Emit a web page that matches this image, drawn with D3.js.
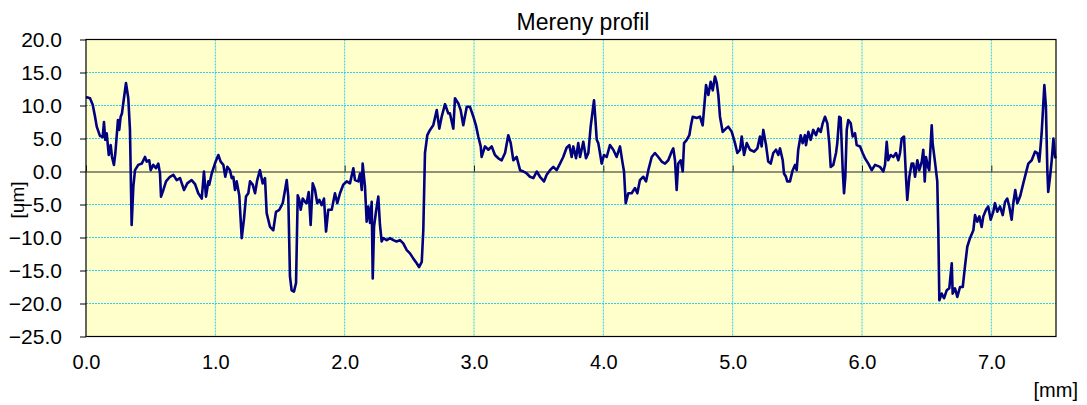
<!DOCTYPE html>
<html>
<head>
<meta charset="utf-8">
<script src="https://cdn.jsdelivr.net/npm/d3@7"></script>
<style>
  html, body { margin: 0; padding: 0; background: #fff; }
  svg { display: block; font-family: "Liberation Sans", Arial, sans-serif; }
</style>
</head>
<body>
<svg id="chart" width="1087" height="405"></svg>
<script>
const chartTitle = "Mereny profil";
const xAxisLabel = "[mm]";
const yAxisLabel = "[um]";
const xTicks = [0, 1, 2, 3, 4, 5, 6, 7];
const yTicks = [-25, -20, -15, -10, -5, 0, 5, 10, 15, 20];

// position along the profile [mm]
const positionMm = [
0.000,0.031,0.052,0.070,0.083,0.108,0.129,0.139,0.149,0.160,0.176,0.191,0.201,0.216,0.227,0.237,0.247,0.257,0.268,0.278,0.288,0.309,0.327,0.340,0.353,0.366,0.379,0.404,0.431,0.456,0.469,0.489,0.500,0.520,0.541,0.559,0.572,0.580,0.598,0.619,0.649,0.675,0.701,0.727,0.758,0.783,0.817,0.843,0.868,0.895,0.912,0.928,0.946,
0.953,0.972,0.997,1.023,1.041,1.062,1.077,1.093,1.113,1.127,1.139,1.152,1.165,1.185,1.204,1.222,1.237,1.255,1.268,1.289,1.307,1.324,1.345,1.366,1.384,1.397,1.423,1.448,1.469,1.495,1.521,1.539,1.552,1.564,1.577,1.590,1.608,1.624,1.637,1.649,1.660,1.676,1.693,1.706,1.722,1.737,1.753,1.771,1.788,1.804,1.822,1.840,1.856,1.873,
1.900,1.925,1.943,1.964,1.989,2.016,2.041,2.067,2.080,2.105,2.119,2.132,2.139,2.157,2.170,2.183,2.196,2.209,2.217,2.227,2.242,2.260,2.273,2.286,2.299,2.325,2.351,2.376,2.402,2.428,2.453,2.480,2.505,2.531,2.557,2.575,2.596,2.608,2.621,2.639,2.660,2.685,2.712,2.732,2.750,2.776,2.801,
2.814,2.840,2.853,2.879,2.897,2.917,2.944,2.969,2.995,3.015,3.033,3.052,3.059,3.085,3.111,3.137,3.162,3.188,3.214,3.240,3.265,3.284,3.304,3.330,3.356,3.382,3.408,3.433,3.459,3.485,3.510,3.541,3.562,3.588,3.613,3.639,3.665,3.690,3.716,3.737,
3.755,3.768,3.789,3.806,3.820,3.845,3.866,3.884,3.902,3.915,3.928,3.938,3.949,3.961,3.974,3.987,4.005,4.026,4.051,4.077,4.103,4.129,4.147,4.160,4.173,4.193,4.219,4.245,4.263,4.283,4.309,4.330,4.348,4.374,4.399,4.425,4.451,4.477,4.502,4.528,4.541,4.554,4.567,4.579,4.598,4.614,4.624,4.645,4.665,
4.676,4.691,4.722,4.747,4.768,4.778,4.794,4.812,4.830,4.846,4.863,4.877,4.889,4.902,4.923,4.948,4.966,4.993,5.018,5.036,5.057,5.070,5.088,5.109,5.134,5.165,5.191,5.211,5.224,5.237,5.258,5.275,5.294,5.314,5.335,5.353,5.366,5.387,5.397,5.412,5.422,5.443,5.464,5.482,5.495,5.507,5.526,5.541,5.559,
5.567,5.585,5.603,5.623,5.644,5.662,5.681,5.696,5.714,5.732,5.747,5.758,5.778,5.799,5.809,5.824,5.835,5.851,5.861,5.871,5.882,5.894,5.913,5.928,5.946,5.959,5.985,6.005,6.023,6.049,6.075,6.101,6.139,6.165,6.178,6.191,6.203,6.222,6.242,6.263,6.281,6.294,6.307,6.325,6.340,6.350,6.366,6.384,6.397,6.410,6.428,6.443,6.462,6.474,6.485,6.495,6.510,6.520,6.539,6.546,6.564,6.582,6.590,
6.598,6.616,6.634,6.655,6.675,6.694,6.701,6.719,6.737,6.758,6.779,6.796,6.814,6.835,6.861,6.874,6.891,6.907,6.925,6.938,6.959,6.976,6.995,7.015,7.028,7.046,7.067,7.088,7.106,7.123,7.139,7.157,7.170,7.185,7.201,7.222,7.247,7.273,7.286,7.312,7.338,7.356,7.371,7.389,7.402,7.410,7.422,7.433,7.440,7.454,7.467,7.480,7.493,7.500
];

// measured height [um]
const heightUm = [
11.3,11.1,10.1,8.3,6.8,5.4,5.2,7.5,4.8,5.8,2.5,4.0,2.2,1.0,2.8,5.3,7.8,6.3,8.3,8.8,10.3,13.4,11.1,6.3,-8.1,-2.3,0.2,1.0,1.2,2.2,1.5,1.7,0.2,1.0,0.5,1.2,-0.3,-3.8,-2.8,-1.5,-0.8,-0.5,-1.3,-1.0,-2.8,-1.8,-1.3,-1.9,-3.3,-4.1,0.0,-3.8,-1.5,
-2.0,-0.3,1.2,2.5,1.5,1.0,-0.8,0.7,0.2,-1.0,-0.8,-2.8,-1.5,-3.6,-10.1,-7.1,-3.8,-3.3,-1.5,-2.0,-3.3,-1.3,0.2,-1.8,-1.0,-6.3,-8.4,-8.9,-6.1,-5.8,-4.8,-2.8,-1.3,-3.8,-15.9,-18.0,-18.2,-16.9,-3.6,-4.3,-5.8,-4.1,-4.6,-4.8,-3.1,-8.1,-1.8,-2.8,-4.8,-4.3,-5.1,-4.1,-9.1,-5.8,
-5.8,-3.3,-4.8,-3.3,-2.0,-1.5,-1.8,0.5,-1.3,-1.5,-0.3,-2.8,1.2,-2.3,-7.6,-5.3,-7.8,-4.6,-16.2,-8.4,-6.1,-3.8,-8.1,-10.6,-10.1,-10.4,-10.1,-10.4,-10.6,-10.4,-10.9,-11.9,-12.4,-13.2,-13.9,-14.5,-13.7,-8.9,2.8,5.5,6.3,7.0,9.3,6.5,8.3,10.2,8.8,
8.8,6.5,11.1,10.3,9.3,7.0,9.8,9.8,8.3,7.0,5.3,3.8,2.2,3.8,3.3,3.8,2.5,2.0,1.7,2.8,5.5,4.3,1.7,2.2,0.2,0.0,-0.3,-0.8,-1.0,0.0,-0.8,-1.5,-0.5,0.2,0.7,0.2,1.2,2.2,3.6,4.0,
2.2,3.8,2.0,4.3,2.2,4.5,2.0,2.8,6.8,8.8,10.8,8.1,4.8,4.3,2.8,1.2,2.5,2.2,4.0,3.3,2.2,3.8,1.5,0.0,-4.8,-3.3,-3.3,-2.5,-3.3,-1.3,-0.8,-1.5,0.2,2.2,2.8,2.2,1.5,1.2,1.7,3.0,3.5,1.7,-2.8,1.2,1.7,0.0,4.3,4.8,5.5,
6.8,8.3,8.1,8.3,7.0,9.3,13.1,11.6,13.6,12.3,14.4,13.4,11.6,8.3,6.0,6.5,6.8,6.0,4.3,2.8,3.3,5.3,2.5,4.3,3.3,3.0,3.5,5.3,3.8,6.3,4.0,1.5,1.2,2.8,3.3,2.5,3.5,1.7,-0.3,-0.8,-1.5,-1.5,0.2,1.0,0.2,3.3,5.5,4.3,5.5,
4.0,6.0,4.8,6.3,5.5,6.5,6.0,7.3,8.3,7.3,4.3,0.7,1.0,2.8,4.3,8.3,8.1,0.2,-3.3,-0.8,6.3,7.8,7.3,5.3,5.8,4.0,3.8,2.8,2.0,1.2,0.2,1.0,0.7,0.0,1.0,4.5,1.7,2.5,2.2,2.8,1.7,2.8,5.0,5.3,-0.8,-4.3,-0.8,1.2,1.2,-0.8,1.7,0.2,1.5,3.3,-1.5,2.2,0.7,0.2,7.0,4.3,1.5,-1.5,-8.9,
-19.5,-18.5,-19.2,-18.0,-17.7,-13.9,-18.5,-17.7,-19.0,-17.5,-17.5,-14.4,-11.4,-10.1,-8.9,-6.6,-7.6,-6.8,-8.4,-6.8,-5.8,-5.3,-7.3,-6.1,-4.8,-6.1,-5.3,-6.6,-4.6,-4.1,-5.3,-7.3,-4.8,-2.8,-4.8,-3.8,-1.8,0.2,1.2,1.7,3.0,2.8,1.5,5.8,10.3,13.1,9.8,0.2,-3.1,-0.8,1.7,5.0,2.2,2.0
];

const data = positionMm.map((x, i) => ({ x, y: heightUm[i] }));

const svg = d3.select("#chart");
const margin = { left: 86, top: 39.5, right: 1056, bottom: 336.5 };

const x = d3.scaleLinear().domain([0, 7.5]).range([margin.left, margin.right]);
const y = d3.scaleLinear().domain([-25, 20]).range([margin.bottom, margin.top]);

// plot background
svg.append("rect")
  .attr("x", x(0)).attr("y", y(20))
  .attr("width", x(7.5) - x(0)).attr("height", y(-25) - y(20))
  .attr("fill", "#ffffcc");

// grid lines
const grid = svg.append("g");
grid.selectAll("line.h").data(yTicks.filter(v => v > -25 && v < 20 && v !== 0))
  .join("line").attr("class", "h")
  .attr("x1", x(0)).attr("x2", x(7.5))
  .attr("y1", d => y(d)).attr("y2", d => y(d))
  .attr("stroke", "#33ccee").attr("stroke-width", 1).attr("stroke-dasharray", "2,1");
grid.selectAll("line.v").data(xTicks.filter(v => v > 0))
  .join("line").attr("class", "v")
  .attr("x1", d => x(d)).attr("x2", d => x(d))
  .attr("y1", y(20)).attr("y2", y(-25))
  .attr("stroke", "#33ccee").attr("stroke-width", 1).attr("stroke-dasharray", "2,1");

// zero line as x-axis with inside ticks
const xAxisZero = d3.axisTop(x).tickValues(xTicks).tickSize(6).tickFormat("").tickSizeOuter(0);
const gz = svg.append("g").attr("transform", `translate(0,${y(0)})`).call(xAxisZero);
gz.select(".domain").attr("stroke", "#222").attr("stroke-width", 1);
gz.selectAll(".tick line").attr("stroke", "#222");

// x tick labels at bottom
const xAxisBottom = d3.axisBottom(x).tickValues(xTicks).tickSize(0).tickPadding(18)
  .tickFormat(d3.format(".1f"));
const gx = svg.append("g").attr("transform", `translate(0,${y(-25)})`).call(xAxisBottom);
gx.select(".domain").remove();
gx.selectAll("text").attr("font-size", 20).attr("fill", "#000")
  .attr("font-family", "Liberation Sans, Arial, sans-serif");

// y axis
const yAxis = d3.axisLeft(y).tickValues(yTicks).tickSize(6).tickPadding(18)
  .tickFormat(d3.format(".1f"));
const gy = svg.append("g").attr("transform", `translate(${x(0)},0)`).call(yAxis);
gy.select(".domain").remove();
gy.selectAll(".tick line").attr("stroke", "#000");
gy.selectAll("text").attr("font-size", 21).attr("fill", "#000")
  .attr("font-family", "Liberation Sans, Arial, sans-serif");

// profile line
const line = d3.line().x(d => x(d.x)).y(d => y(d.y));
svg.append("path").datum(data)
  .attr("d", line)
  .attr("fill", "none")
  .attr("stroke", "#000080")
  .attr("stroke-width", 2.6)
  .attr("stroke-linejoin", "round");

// plot border
svg.append("rect")
  .attr("x", x(0)).attr("y", y(20))
  .attr("width", x(7.5) - x(0)).attr("height", y(-25) - y(20))
  .attr("fill", "none").attr("stroke", "#000").attr("stroke-width", 1.2);

// title
svg.append("text")
  .attr("x", 583).attr("y", 30)
  .attr("text-anchor", "middle")
  .attr("font-size", 23)
  .attr("fill", "#000")
  .text(chartTitle);

// axis labels
svg.append("text")
  .attr("x", 1078).attr("y", 397)
  .attr("text-anchor", "end")
  .attr("font-size", 20)
  .attr("fill", "#000")
  .text(xAxisLabel);

svg.append("text")
  .attr("transform", "translate(24,200) rotate(-90)")
  .attr("text-anchor", "middle")
  .attr("font-size", 19)
  .attr("fill", "#000")
  .text(yAxisLabel);
</script>
</body>
</html>
